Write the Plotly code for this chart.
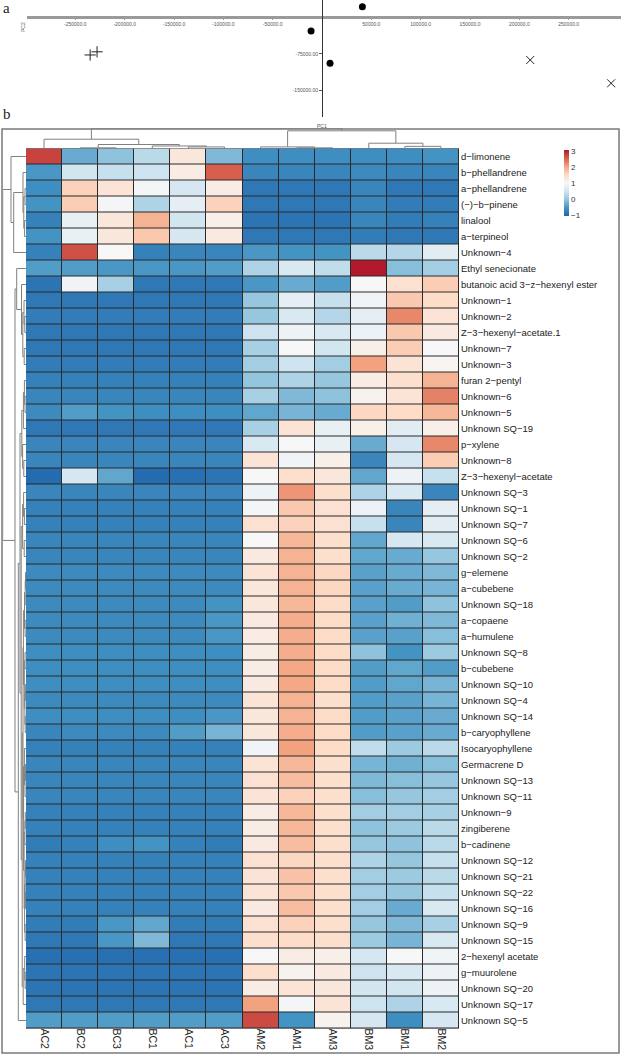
import plotly.graph_objects as go

W, H = 621, 1056

# ---- panel a: PCA scores ----
pc1_circle = [40900, -11100, 8100]
pc2_circle = [21800, -28200, -94600]
pc1_plus = [-235000, -228000]
pc2_plus = [-77500, -71000]
pc1_x = [211000, 293000]
pc2_x = [-87800, -135700]
pc1_ticks = [-250000, -200000, -150000, -100000, -50000, 50000, 100000, 150000, 200000, 250000]
pc2_ticks = [-75000, -150000]

# ---- panel b: heatmap ----
samples = ["AC2", "BC2", "BC3", "BC1", "AC1", "AC3", "AM2", "AM1", "AM3", "BM3", "BM1", "BM2"]
compounds = [
    "d−limonene", "b−phellandrene", "a−phellandrene", "(−)−b−pinene", "linalool", "a−terpineol",
    "Unknown−4", "Ethyl senecionate", "butanoic acid 3−z−hexenyl ester", "Unknown−1", "Unknown−2",
    "Z−3−hexenyl−acetate.1", "Unknown−7", "Unknown−3", "furan 2−pentyl", "Unknown−6", "Unknown−5",
    "Unknown SQ−19", "p−xylene", "Unknown−8", "Z−3−hexenyl−acetate", "Unknown SQ−3", "Unknown SQ−1",
    "Unknown SQ−7", "Unknown SQ−6", "Unknown SQ−2", "g−elemene", "a−cubebene", "Unknown SQ−18",
    "a−copaene", "a−humulene", "Unknown SQ−8", "b−cubebene", "Unknown SQ−10", "Unknown SQ−4",
    "Unknown SQ−14", "b−caryophyllene", "Isocaryophyllene", "Germacrene D", "Unknown SQ−13",
    "Unknown SQ−11", "Unknown−9", "zingiberene", "b−cadinene", "Unknown SQ−12", "Unknown SQ−21",
    "Unknown SQ−22", "Unknown SQ−16", "Unknown SQ−9", "Unknown SQ−15", "2−hexenyl acetate",
    "g−muurolene", "Unknown SQ−20", "Unknown SQ−17", "Unknown SQ−5",
]
z = [
    [2.75, -0.3, -0.05, 0.3, 1.3, -0.15, -0.6, -0.6, -0.6, -0.6, -0.6, -0.55],
    [-0.5, 0.5, 0.4, 0.45, 1.2, 2.55, -0.7, -0.7, -0.7, -0.65, -0.7, -0.7],
    [-0.6, 1.6, 1.35, 0.95, 0.55, 1.2, -0.85, -0.85, -0.85, -0.7, -0.85, -0.85],
    [-0.55, 1.65, 0.95, 0.2, 0.75, 1.6, -0.85, -0.85, -0.85, -0.7, -0.8, -0.8],
    [-0.75, 0.8, 1.3, 1.9, 0.5, 1.15, -0.9, -0.9, -0.9, -0.7, -0.8, -0.75],
    [-0.55, 0.8, 1.3, 1.7, 0.55, 1.25, -0.85, -0.85, -0.85, -0.8, -0.85, -0.85],
    [-0.75, 2.65, 1.0, -0.75, -0.7, -0.7, -0.5, -0.55, -0.55, 0.3, 0.25, 0.7],
    [-0.45, -0.45, -0.5, -0.5, -0.5, -0.45, 0.2, 0.6, 0.35, 3.05, -0.1, 0.1],
    [-0.9, 0.9, 0.15, -0.85, -0.85, -0.85, -0.5, -0.3, -0.45, 1.0, 1.4, 1.65],
    [-0.85, -0.85, -0.85, -0.85, -0.85, -0.85, 0.0, 0.75, 0.4, 0.9, 1.7, 1.5],
    [-0.8, -0.8, -0.8, -0.8, -0.8, -0.8, 0.0, 0.6, 0.25, 0.75, 2.25, 1.35],
    [-0.85, -0.85, -0.85, -0.85, -0.85, -0.85, 0.45, 0.85, 0.6, 0.85, 1.7, 1.25],
    [-0.85, -0.85, -0.85, -0.85, -0.85, -0.85, 0.15, 1.0, 0.5, 1.15, 1.65, 1.0],
    [-0.8, -0.8, -0.8, -0.8, -0.8, -0.8, 0.1, 0.45, 0.1, 2.05, 1.35, 1.05],
    [-0.75, -0.75, -0.75, -0.75, -0.75, -0.75, -0.02, 0.2, 0.0, 1.2, 1.45, 1.9],
    [-0.7, -0.7, -0.7, -0.7, -0.7, -0.7, 0.15, -0.15, -0.05, 1.1, 1.35, 2.3],
    [-0.65, -0.45, -0.55, -0.6, -0.6, -0.6, -0.35, -0.2, -0.3, 1.55, 1.5, 1.85],
    [-0.85, -0.85, -0.85, -0.85, -0.85, -0.85, 0.15, 1.35, 0.8, 1.15, 0.7, 1.15],
    [-0.7, -0.7, -0.7, -0.7, -0.7, -0.7, 0.6, 1.0, 0.8, -0.3, 0.55, 2.25],
    [-0.7, -0.7, -0.7, -0.7, -0.7, -0.7, 1.35, 0.9, 1.15, -0.7, 0.55, 1.65],
    [-1.0, 0.55, -0.35, -1.0, -0.95, -0.9, 1.0, 1.45, 1.3, -0.35, 0.85, 0.4],
    [-0.7, -0.7, -0.7, -0.7, -0.7, -0.7, 0.85, 2.15, 1.45, 0.2, 0.6, -0.7],
    [-0.75, -0.75, -0.75, -0.75, -0.75, -0.75, 0.95, 1.7, 1.4, 0.85, -0.7, 0.75],
    [-0.75, -0.75, -0.75, -0.75, -0.75, -0.75, 1.4, 1.6, 1.4, 0.4, -0.7, 0.7],
    [-0.7, -0.7, -0.7, -0.7, -0.7, -0.7, 1.0, 1.85, 1.45, -0.35, 0.55, 0.6],
    [-0.7, -0.7, -0.7, -0.7, -0.7, -0.7, 1.25, 1.9, 1.45, -0.35, -0.3, 0.0],
    [-0.65, -0.65, -0.65, -0.65, -0.65, -0.65, 1.35, 1.9, 1.55, -0.4, -0.3, -0.15],
    [-0.65, -0.65, -0.65, -0.65, -0.65, -0.65, 1.3, 1.9, 1.55, -0.4, -0.3, -0.2],
    [-0.65, -0.65, -0.65, -0.65, -0.65, -0.55, 1.3, 1.85, 1.5, -0.4, -0.45, -0.05],
    [-0.65, -0.65, -0.65, -0.65, -0.65, -0.5, 1.25, 1.95, 1.5, -0.4, -0.25, -0.15],
    [-0.65, -0.65, -0.65, -0.65, -0.65, -0.5, 1.2, 1.95, 1.5, -0.4, -0.4, -0.1],
    [-0.6, -0.6, -0.6, -0.6, -0.6, -0.6, 1.2, 1.95, 1.5, -0.05, -0.55, 0.05],
    [-0.6, -0.6, -0.6, -0.6, -0.6, -0.6, 1.2, 2.0, 1.5, -0.45, -0.35, -0.45],
    [-0.6, -0.6, -0.6, -0.6, -0.6, -0.6, 1.25, 2.0, 1.5, -0.45, -0.35, -0.2],
    [-0.65, -0.65, -0.65, -0.65, -0.65, -0.65, 1.35, 1.9, 1.45, -0.45, -0.4, -0.2],
    [-0.6, -0.6, -0.6, -0.6, -0.6, -0.5, 1.3, 1.9, 1.5, -0.45, -0.4, -0.3],
    [-0.7, -0.65, -0.65, -0.65, -0.45, -0.2, 1.3, 1.95, 1.5, -0.45, -0.4, -0.3],
    [-0.75, -0.75, -0.75, -0.75, -0.75, -0.75, 0.9, 2.05, 1.5, 0.35, 0.05, 0.3],
    [-0.7, -0.7, -0.7, -0.7, -0.7, -0.7, 1.35, 1.85, 1.45, -0.2, -0.25, -0.1],
    [-0.7, -0.7, -0.7, -0.7, -0.7, -0.7, 1.4, 1.8, 1.45, -0.15, -0.1, 0.0],
    [-0.7, -0.7, -0.7, -0.7, -0.7, -0.7, 1.35, 1.6, 1.45, -0.1, 0.0, 0.1],
    [-0.75, -0.75, -0.75, -0.75, -0.75, -0.75, 1.2, 1.85, 1.45, 0.1, 0.1, 0.15],
    [-0.75, -0.75, -0.75, -0.75, -0.75, -0.75, 1.2, 1.85, 1.45, -0.05, 0.05, 0.3],
    [-0.8, -0.75, -0.6, -0.55, -0.75, -0.8, 1.25, 1.8, 1.45, 0.0, -0.05, 0.3],
    [-0.75, -0.75, -0.75, -0.75, -0.75, -0.75, 1.4, 1.55, 1.45, 0.2, 0.0, 0.4],
    [-0.75, -0.75, -0.75, -0.75, -0.75, -0.75, 1.35, 1.75, 1.45, 0.1, 0.05, 0.3],
    [-0.75, -0.75, -0.75, -0.75, -0.75, -0.75, 1.35, 1.7, 1.45, 0.1, 0.0, 0.4],
    [-0.75, -0.75, -0.75, -0.75, -0.75, -0.75, 1.25, 1.8, 1.45, 0.1, -0.3, 0.6],
    [-0.8, -0.8, -0.5, -0.35, -0.8, -0.8, 1.4, 1.6, 1.45, 0.0, -0.15, 0.15],
    [-0.85, -0.85, -0.5, -0.15, -0.85, -0.85, 1.45, 1.5, 1.45, 0.05, -0.2, 0.6],
    [-0.95, -0.95, -0.95, -0.95, -0.95, -0.95, 1.0, 1.2, 1.15, 0.55, 1.0, 0.9],
    [-0.9, -0.9, -0.9, -0.9, -0.9, -0.9, 1.45, 1.1, 1.25, 0.45, 0.6, 0.85],
    [-0.9, -0.9, -0.9, -0.9, -0.9, -0.9, 1.2, 1.35, 1.3, 0.5, 0.5, 0.85],
    [-0.85, -0.85, -0.85, -0.85, -0.85, -0.85, 2.05, 0.95, 1.35, 0.45, 0.2, 0.6],
    [-0.45, -0.45, -0.45, -0.45, -0.45, -0.45, 2.7, -0.55, 1.1, 0.55, -0.6, 0.55],
]
cbar_ticks = [-1, 0, 1, 2, 3]

# dendrograms as nested [height, left, right]; leaves are display indices
col_tree = [21.7, [10, 0, [4.3, [0.7, 1, 2], [2.7, 3, [1.7, 4, 5]]]],
            [19, [1.7, 6, [0.7, 7, 8]], [5.7, 9, [2.3, 10, 11]]]]

rows_h = [4.5, 8, [3.2, [2.0, 9, [1.2, 10, 11]], [1.8, 12, 13]]]
rows_g1 = [4.2, [2.6, [1.6, 14, [1.0, 15, 16]], 17], [3.4, 18, [2.2, 19, 20]]]
rows_sa = [3.4, [2.4, 21, [1.6, 22, 23]], [1.8, 24, 25]]
rows_sb = [2.6, [1.5, [0.8, [0.5, 26, 27], 28], [0.9, 29, 30]],
           [1.7, [1.0, 31, 32], [1.1, [0.6, 33, 34], [0.8, 35, 36]]]]
rows_sc = [2.4, [1.6, 37, [1.0, [0.6, 38, 39], 40]],
           [1.9, [1.1, [0.7, 41, 42], 43], [1.4, [0.8, [0.5, 44, 45], [0.6, 46, 47]], [0.9, 48, 49]]]]
rows_sd = [2.8, [1.3, 50, [0.9, 51, 52]], 53]
rows_g2 = [4.8, rows_sa, [3.8, [3.0, rows_sb, rows_sc], rows_sd]]
row_tree = [23.3,
            [15, 0, [12.3, [3, 1, [2.2, [1.0, 2, 3], [1.4, 4, 5]]], 6]],
            [11, [9.3, 7, rows_h], [7.7, [6, rows_g1, rows_g2], 54]]]

colorscale = [[0.0, "#2166AC"], [0.125, "#4393C3"], [0.25, "#92C5DE"], [0.375, "#D1E5F0"],
              [0.5, "#F7F7F7"], [0.625, "#FDDBC7"], [0.75, "#F4A582"], [0.875, "#D6604D"],
              [1.0, "#B2182B"]]


def dendro(tree):
    pos, hgt = [], []

    def walk(node):
        if isinstance(node, int):
            return node, 0.0
        h, left, right = node
        p1, h1 = walk(left)
        p2, h2 = walk(right)
        pos.extend([p1, p1, p2, p2, None])
        hgt.extend([h1, h, h, h2, None])
        return (p1 + p2) / 2, h

    walk(tree)
    return pos, hgt


def px_x(p):
    return p / W


def px_y(p):
    return 1 - p / H


FONT = "Liberation Sans, Arial, sans-serif"
fig = go.Figure()

# PCA
fig.add_trace(go.Scatter(x=pc1_circle, y=pc2_circle, mode="markers",
                         marker=dict(symbol="circle", size=7, color="black"),
                         xaxis="x", yaxis="y"))
fig.add_trace(go.Scatter(x=pc1_plus, y=pc2_plus, mode="markers",
                         marker=dict(symbol="cross-thin-open", size=8, color="#222",
                                     line=dict(width=1, color="#222")),
                         xaxis="x", yaxis="y"))
fig.add_trace(go.Scatter(x=pc1_x, y=pc2_x, mode="markers",
                         marker=dict(symbol="x-thin-open", size=8, color="#222",
                                     line=dict(width=1, color="#222")),
                         xaxis="x", yaxis="y"))

# heatmap
fig.add_trace(go.Heatmap(
    z=z, x=list(range(len(samples))), y=list(range(len(compounds))),
    colorscale=colorscale, zmin=-1.06, zmax=3.06, xgap=1, ygap=1,
    xaxis="x2", yaxis="y2", hoverinfo="skip",
    colorbar=dict(thickness=5, lenmode="pixels", len=66, x=px_x(564), xanchor="left",
                  y=px_y(150), yanchor="top", outlinewidth=0, tickvals=cbar_ticks,
                  ticks="", tickfont=dict(size=8, color="#333", family=FONT), xpad=0, ypad=0),
))

cp, ch = dendro(col_tree)
fig.add_trace(go.Scatter(x=cp, y=ch, mode="lines", line=dict(color="#808080", width=1),
                         xaxis="x3", yaxis="y3", hoverinfo="skip"))
rp, rh = dendro(row_tree)
fig.add_trace(go.Scatter(x=rh, y=rp, mode="lines", line=dict(color="#808080", width=1),
                         xaxis="x4", yaxis="y4", hoverinfo="skip"))

ymin, ymax = -205000, 35500
yzero_paper = px_y(0) - (0 - ymax) / (ymin - ymax) * (117 / H)
xmin, xmax = -299000, 303000
x0p, x1p = px_x(27), 1.0
xzero_paper = x0p + (0 - xmin) / (xmax - xmin) * (x1p - x0p)

tiny = dict(size=5, color="#555", family=FONT)
hm_x = [px_x(26), px_x(459)]
hm_y = [px_y(1028.5), px_y(148.5)]
fig.update_layout(
    width=W, height=H, margin=dict(l=0, r=0, t=0, b=0, autoexpand=False),
    paper_bgcolor="white", plot_bgcolor="rgba(0,0,0,0)", showlegend=False,
    font=dict(family=FONT, color="#222"),
    xaxis=dict(domain=[x0p, x1p], range=[xmin, xmax], anchor="free", position=yzero_paper,
               showline=True, linecolor="#9a9a9a", linewidth=2.5, showgrid=False, zeroline=False,
               tickvals=pc1_ticks, ticktext=[f"{v:.1f}" for v in pc1_ticks], automargin=False,
               ticks="outside", ticklen=1, tickcolor="#9a9a9a", tickfont=tiny),
    yaxis=dict(domain=[px_y(117), 1.0], range=[ymin, ymax], anchor="free", position=xzero_paper,
               showline=True, linecolor="#333", linewidth=1, showgrid=False, zeroline=False,
               tickvals=pc2_ticks, ticktext=[f"{v:.2f}" for v in pc2_ticks], automargin=False,
               ticks="outside", ticklen=3, tickcolor="#555", tickfont=tiny),
    xaxis2=dict(domain=hm_x, range=[-0.5, len(samples) - 0.5], anchor="y2",
                tickvals=list(range(len(samples))), ticktext=samples, tickangle=90,
                ticks="", showgrid=False, zeroline=False, showline=False, automargin=False,
                ticklabelstandoff=-1,
                tickfont=dict(size=10.5, color="#222", family=FONT)),
    yaxis2=dict(domain=hm_y, range=[len(compounds) - 0.5, -0.5], anchor="x2", side="right",
                tickvals=list(range(len(compounds))), ticktext=compounds,
                ticks="", showgrid=False, zeroline=False, showline=False, automargin=False,
                ticklabelstandoff=1,
                tickfont=dict(size=9.5, color="#222", family=FONT)),
    xaxis3=dict(domain=hm_x, range=[-0.5, len(samples) - 0.5], anchor="y3", visible=False,
                automargin=False),
    yaxis3=dict(domain=[px_y(148.5), px_y(128.3)], range=[0, 21.7], anchor="x3", visible=False,
                automargin=False),
    xaxis4=dict(domain=[px_x(2.7), px_x(26)], range=[23.3, 0], anchor="y4", visible=False,
                automargin=False),
    yaxis4=dict(domain=hm_y, range=[len(compounds) - 0.5, -0.5], anchor="x4", visible=False,
                automargin=False),
    shapes=[
        dict(type="rect", xref="x2", yref="y2", x0=-0.5, x1=len(samples) - 0.5,
             y0=-0.5, y1=len(compounds) - 0.5, layer="below",
             fillcolor="#2a2a2a", line=dict(color="#2a2a2a", width=1)),
        dict(type="rect", xref="paper", yref="paper", x0=px_x(2), x1=px_x(619),
             y0=px_y(1053), y1=px_y(129), line=dict(color="#7a7a7a", width=1.5)),
    ],
    annotations=[
        dict(text="a", x=px_x(1), y=px_y(-2), xref="paper", yref="paper", xanchor="left",
             yanchor="top", showarrow=False,
             font=dict(size=15, family="Liberation Serif, Times New Roman, serif", color="#222")),
        dict(text="b", x=px_x(1), y=px_y(104), xref="paper", yref="paper", xanchor="left",
             yanchor="top", showarrow=False,
             font=dict(size=15, family="Liberation Serif, Times New Roman, serif", color="#222")),
        dict(text="PC2", x=px_x(18), y=px_y(20), xref="paper", yref="paper", textangle=-90,
             showarrow=False, font=tiny),
        dict(text="PC1", x=xzero_paper, y=px_y(121), xref="paper", yref="paper",
             showarrow=False, font=tiny),
    ],
)

# the page's default body margin would shift the figure by 8px
fig.write_html("out.html", config={"displayModeBar": False},
               post_script="document.body.style.margin='0px';")
